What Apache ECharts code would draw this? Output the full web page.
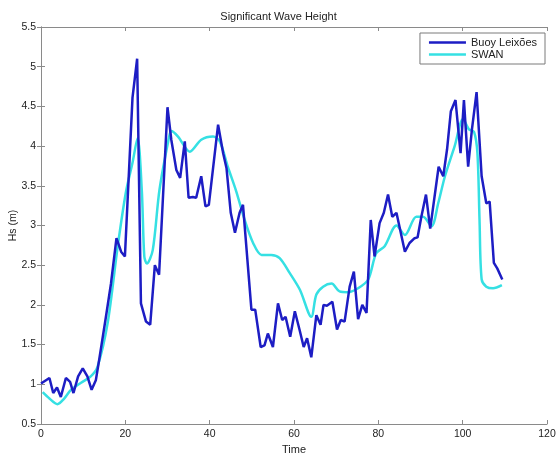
<!DOCTYPE html>
<html>
<head>
<meta charset="utf-8">
<script src="https://cdn.jsdelivr.net/npm/echarts@6/dist/echarts.min.js"></script>
<style>html,body{margin:0;padding:0;background:#fff;}#c{width:557px;height:456px;}</style>
</head>
<body>
<div id="c"></div>
<script>
var xTicks = [0, 20, 40, 60, 80, 100, 120];
var yTicks = [0.5, 1, 1.5, 2, 2.5, 3, 3.5, 4, 4.5, 5, 5.5];

var buoyTime = [0,2,2.9,3.8,4.7,5.9,6.9,7.7,8.8,9.9,11,12,13,13.8,15.4,16.6,17.9,19,19.9,21.7,22.8,23.7,24.9,25.9,27,28,30,30.9,32.1,33,34.1,35,36,36.8,38,39,39.8,42,43.2,44,45,46,47.1,47.9,49.9,50.8,52.1,53,53.8,55,56.2,57.2,58,59.1,60.2,61.3,62.3,63.1,64.1,65.3,66.3,67,67.8,69.1,70.2,71.1,72,73.2,74.2,75.2,76.2,77.2,78.2,79.1,80.3,81.3,82.3,83.3,84.3,86.3,87.4,88.6,89.3,90.2,91.3,92.3,94.3,95.4,96.3,97.2,98.3,99.5,100.3,101.3,102.2,103.3,104.5,105.6,106.4,107.4,108.2,109.4];
var buoyHs = [1.01,1.08,0.89,0.96,0.84,1.08,1.03,0.89,1.10,1.20,1.10,0.93,1.05,1.31,1.85,2.27,2.84,2.67,2.61,4.61,5.10,2.02,1.79,1.75,2.50,2.38,4.49,4.08,3.70,3.60,4.06,3.35,3.36,3.35,3.62,3.24,3.26,4.27,3.91,3.72,3.16,2.91,3.16,3.26,1.94,1.94,1.47,1.49,1.64,1.47,2.02,1.81,1.85,1.60,1.92,1.69,1.47,1.58,1.34,1.87,1.75,2.00,1.99,2.04,1.69,1.81,1.79,2.23,2.42,1.82,2.00,1.90,3.07,2.61,3.03,3.16,3.39,3.11,3.16,2.67,2.78,2.84,2.85,3.11,3.39,2.96,3.74,3.62,3.96,4.44,4.58,3.91,4.58,3.74,4.21,4.68,3.62,3.28,3.30,2.53,2.46,2.32];

var swanTime = [0.4,2,3.9,5.5,7.1,9.5,11.8,13.4,15.8,18.2,20.1,21.7,22.9,23.9,24.5,25.1,26.5,28.1,30.4,30.9,32.5,35.3,38,40.8,42.4,44.3,46.3,48.3,50.3,52.3,54.6,56.6,59,61.4,64.1,65.3,66.9,68.9,70.8,72.8,75.2,77.6,79.5,81.5,84.3,86.3,89,90.6,92.6,94.2,95.8,98.1,100.1,101.5,102.7,103.5,104,104.5,105.6,107.2,109.3];
var swanHs = [0.90,0.82,0.75,0.82,0.93,1.02,1.10,1.22,1.77,2.74,3.41,3.79,4.10,3.45,2.61,2.52,2.69,3.45,4.12,4.19,4.12,3.93,4.08,4.12,4.06,3.74,3.43,3.07,2.78,2.63,2.63,2.59,2.40,2.19,1.85,2.13,2.23,2.27,2.17,2.16,2.21,2.32,2.65,2.74,3.00,2.88,3.11,3.11,2.99,3.28,3.62,4.00,4.34,4.21,4.18,3.91,3.07,2.32,2.23,2.21,2.25];

function pairs(xs, ys) { return xs.map(function (x, i) { return [x, ys[i]]; }); }

var FONT = '"Liberation Sans", Arial, sans-serif';
var chart = echarts.init(document.getElementById('c'));
var axisLine = { show: true, lineStyle: { color: '#8a8a8a', width: 1 } };
var tick = { show: true, inside: true, length: 4, lineStyle: { color: '#8a8a8a' } };

chart.setOption({
  animation: false,
  backgroundColor: '#ffffff',
  title: {
    text: 'Significant Wave Height',
    left: 'center', top: 6,
    textStyle: { fontFamily: FONT, fontSize: 11, fontWeight: 'normal', color: '#222' }
  },
  grid: { left: 41, right: 10, top: 27, bottom: 32, containLabel: false, outerBoundsMode: 'none' },
  legend: {
    data: ['Buoy Leixões', 'SWAN'],
    orient: 'vertical', right: 12, top: 33,
    icon: 'rect', itemWidth: 37, itemHeight: 2.5, itemGap: 1,
    padding: [4, 8, 4, 9],
    borderColor: '#7a7a7a', borderWidth: 1, backgroundColor: '#ffffff',
    textStyle: { fontFamily: FONT, fontSize: 11, color: '#222' }
  },
  xAxis: [{
    type: 'value', min: xTicks[0], max: xTicks[xTicks.length - 1], interval: 20,
    position: 'bottom',
    name: 'Time', nameLocation: 'middle', nameGap: 19,
    nameTextStyle: { fontFamily: FONT, fontSize: 11, color: '#222' },
    axisLine: axisLine, axisTick: tick, splitLine: { show: false },
    axisLabel: { margin: 5, fontFamily: FONT, fontSize: 10.5, color: '#222' }
  }, {
    type: 'value', min: xTicks[0], max: xTicks[xTicks.length - 1], interval: 20,
    position: 'top',
    axisLine: axisLine, axisTick: tick, splitLine: { show: false }, axisLabel: { show: false }
  }],
  yAxis: [{
    type: 'value', min: yTicks[0], max: yTicks[yTicks.length - 1], interval: 0.5,
    position: 'left',
    name: 'Hs (m)', nameLocation: 'middle', nameGap: 22, nameRotate: 90, nameMoveOverlap: false,
    nameTextStyle: { fontFamily: FONT, fontSize: 10.5, color: '#222' },
    axisLine: axisLine, axisTick: tick, splitLine: { show: false },
    axisLabel: { margin: 5, fontFamily: FONT, fontSize: 10.5, color: '#222' }
  }, {
    type: 'value', min: yTicks[0], max: yTicks[yTicks.length - 1], interval: 0.5,
    position: 'right',
    axisLine: axisLine, axisTick: tick, splitLine: { show: false }, axisLabel: { show: false }
  }],
  series: [{
    name: 'Buoy Leixões', type: 'line', showSymbol: false, symbol: 'none',
    data: pairs(buoyTime, buoyHs),
    lineStyle: { color: '#1d1dc4', width: 2.5 }, itemStyle: { color: '#1d1dc4' },
    z: 3
  }, {
    name: 'SWAN', type: 'line', showSymbol: false, symbol: 'none', smooth: 0.3,
    data: pairs(swanTime, swanHs),
    lineStyle: { color: '#35e0e3', width: 2.5 }, itemStyle: { color: '#35e0e3' },
    z: 2
  }]
});
</script>
</body>
</html>
